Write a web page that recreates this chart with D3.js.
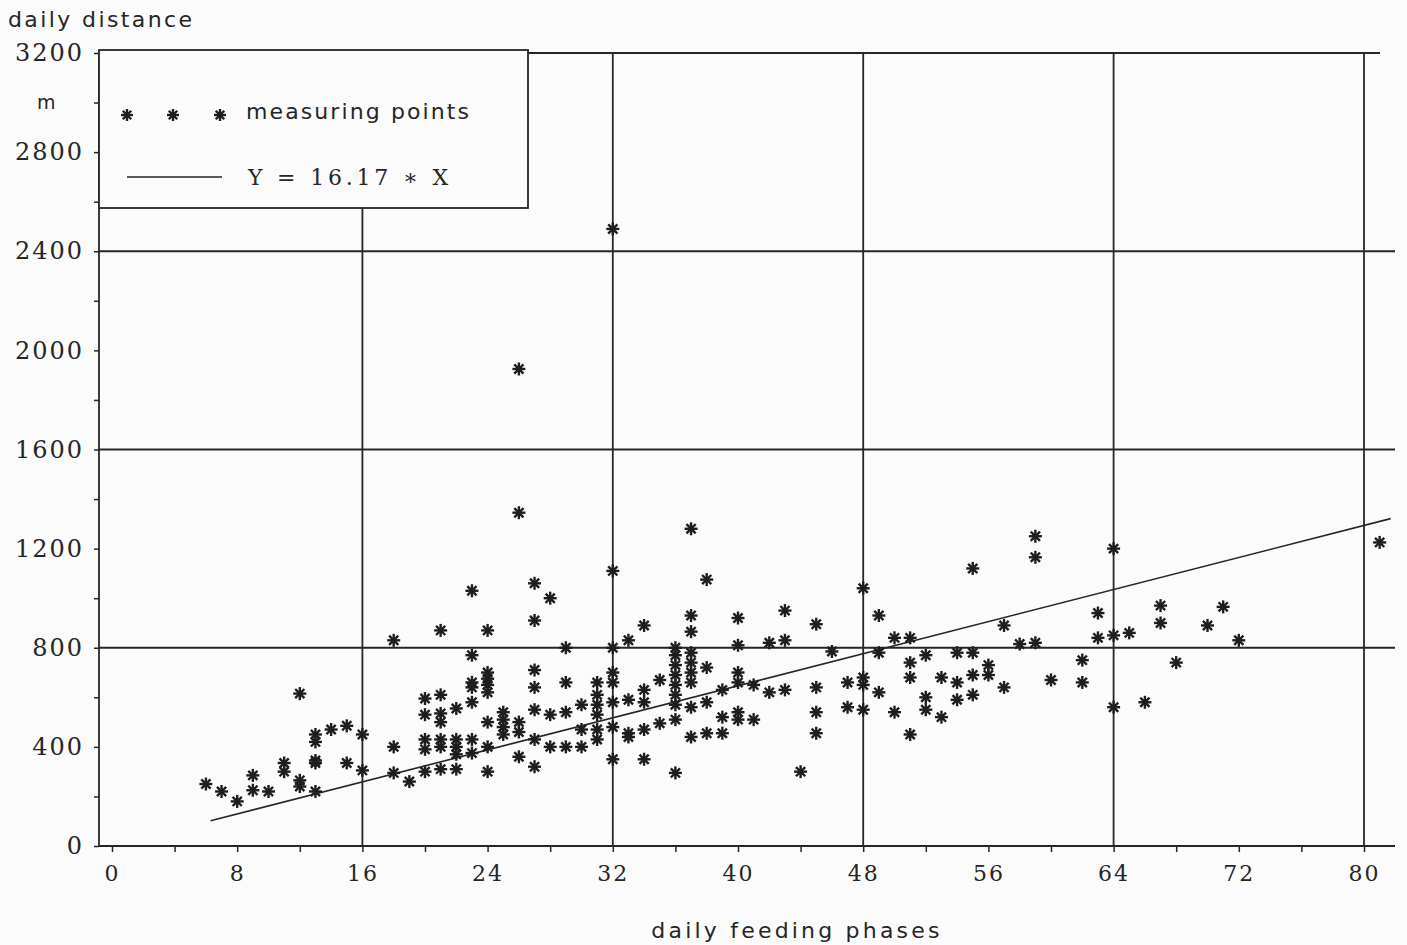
<!DOCTYPE html>
<html>
<head>
<meta charset="utf-8">
<script src="https://cdn.jsdelivr.net/npm/d3@7"></script>
<style>
  body { margin: 0; background: #fbfbfb; }
  svg { display: block; }
  .sans { font-family: "DejaVu Sans", sans-serif; fill: #262626; }
  .serif { font-family: "DejaVu Serif", serif; fill: #262626; }
</style>
</head>
<body>
<svg id="chart" width="1407" height="945"></svg>
<script>
// measuring points, grouped by daily feeding phases -> daily distances (m)
const pointsByPhase = [
    [6, [250]], [7, [220]], [8, [180]], [9, [285, 225]], [10, [220]],
    [11, [335, 300]], [12, [615, 265, 240]], [13, [450, 420, 345, 335, 220]],
    [14, [470]], [15, [485, 335]], [16, [450, 305]], [18, [830, 400, 295]],
    [19, [260]], [20, [595, 530, 430, 390, 300]],
    [21, [870, 610, 535, 500, 430, 400, 310]],
    [22, [555, 430, 400, 370, 310]],
    [23, [1030, 770, 660, 640, 580, 430, 375]],
    [24, [870, 700, 675, 650, 620, 500, 400, 300]],
    [25, [540, 510, 480, 450]],
    [26, [1345, 1925, 500, 460, 360]],
    [27, [1060, 910, 710, 640, 550, 430, 320]],
    [28, [1000, 530, 400]], [29, [800, 660, 540, 400]], [30, [570, 470, 400]],
    [31, [660, 610, 570, 530, 470, 430]],
    [32, [2490, 1110, 800, 700, 660, 580, 480, 350]],
    [33, [830, 590, 455, 440]], [34, [890, 630, 580, 470, 350]], [35, [670, 495]],
    [36, [800, 770, 730, 690, 650, 610, 570, 510, 295]],
    [37, [1280, 930, 865, 780, 740, 700, 660, 560, 440]],
    [38, [1075, 720, 580, 455]], [39, [630, 520, 455]],
    [40, [920, 810, 700, 660, 540, 510]], [41, [650, 510]], [42, [820, 620]],
    [43, [950, 830, 630]], [44, [300]], [45, [895, 640, 540, 455]], [46, [785]],
    [47, [660, 560]], [48, [1040, 680, 650, 550]], [49, [930, 780, 620]],
    [50, [840, 540]], [51, [840, 740, 680, 450]], [52, [770, 600, 550]],
    [53, [680, 520]], [54, [780, 660, 590]], [55, [1120, 780, 690, 610]],
    [56, [730, 690]], [57, [890, 640]], [58, [815]], [59, [1250, 1165, 820]],
    [60, [670]], [62, [750, 660]], [63, [940, 840]], [64, [1200, 850, 560]],
    [65, [860]], [66, [580]], [67, [970, 900]], [68, [740]], [70, [890]],
    [71, [965]], [72, [830]], [81, [1225]]
];

const slope = 16.17;               // Y = 16.17 * X
const fitRange = [6.3, 81.7];
const xTicks = d3.range(0, 81, 4);
const xLabels = d3.range(0, 81, 8);
const yTicks = d3.range(0, 3201, 200);
const yLabels = d3.range(0, 3201, 400);
const xGrid = [16, 32, 48, 64, 80];
const yGrid = [800, 1600, 2400];

const points = pointsByPhase.flatMap(([x, ys]) => ys.map(y => ({ x: x, y: y })));

const svg = d3.select("#chart");
const ink = "#262626";

const x = d3.scaleLinear().domain([0, 80]).range([112, 1364]);
const y = d3.scaleLinear().domain([0, 3200]).range([846, 53]);

const left = 99, right = 1395;
const legend = { x0: 99, y0: 50, x1: 528, y1: 208 };

const g = svg.append("g");

// grid lines
g.selectAll("line.hgrid")
    .data(yGrid)
    .enter()
    .append("line")
    .attr("x1", left).attr("x2", right)
    .attr("y1", d => y(d)).attr("y2", d => y(d))
    .attr("stroke", ink).attr("stroke-width", 1.8);

g.selectAll("line.vgrid")
    .data(xGrid)
    .enter()
    .append("line")
    .attr("x1", d => x(d)).attr("x2", d => x(d))
    .attr("y1", y(0))
    .attr("y2", d => x(d) < legend.x1 ? legend.y1 : y(3200))
    .attr("stroke", ink).attr("stroke-width", 1.8);

// top border
g.append("line")
    .attr("x1", left).attr("x2", 1380)
    .attr("y1", y(3200)).attr("y2", y(3200))
    .attr("stroke", ink).attr("stroke-width", 1.8);

// axes lines
g.append("line")
    .attr("x1", left).attr("x2", right)
    .attr("y1", y(0)).attr("y2", y(0))
    .attr("stroke", ink).attr("stroke-width", 1.8);
g.append("line")
    .attr("x1", left).attr("x2", left)
    .attr("y1", y(0)).attr("y2", y(3200))
    .attr("stroke", ink).attr("stroke-width", 1.8);

// x axis ticks
const xAxis = d3.axisBottom(x)
    .tickValues(xTicks)
    .tickSize(6)
    .tickFormat(d => xLabels.includes(d) ? d : "");
const xa = g.append("g").attr("transform", `translate(0,${y(0)})`).call(xAxis);
xa.select(".domain").remove();
xa.selectAll("line").attr("stroke", ink).attr("stroke-width", 1.5);
xa.selectAll("text")
    .attr("class", "serif")
    .attr("dy", "1.2em")
    .style("font-size", "22px")
    .style("letter-spacing", "2px")
    .attr("fill", ink);

// y axis ticks
const yAxis = d3.axisLeft(y)
    .tickValues(yTicks)
    .tickSize(5)
    .tickFormat(d => yLabels.includes(d) ? d : "");
const ya = g.append("g").attr("transform", `translate(${left},0)`).call(yAxis);
ya.select(".domain").remove();
ya.selectAll("line").attr("stroke", ink).attr("stroke-width", 1.5);
ya.selectAll("text")
    .attr("class", "serif")
    .attr("x", -15)
    .style("font-size", "24px")
    .style("letter-spacing", "2px")
    .attr("fill", ink);

// regression line
g.append("line")
    .attr("x1", x(fitRange[0])).attr("y1", y(slope * fitRange[0]))
    .attr("x2", x(fitRange[1])).attr("y2", y(slope * fitRange[1]))
    .attr("stroke", ink).attr("stroke-width", 1.6);

// asterisk marker
function star(sel, r) {
    sel.each(function () {
        const s = d3.select(this);
        [0, 45, 90, 135].forEach(a => {
            const rad = a * Math.PI / 180;
            const dx = Math.cos(rad) * r, dy = Math.sin(rad) * r;
            s.append("line")
                .attr("x1", -dx).attr("y1", -dy)
                .attr("x2", dx).attr("y2", dy)
                .attr("stroke", "#1e1e1e").attr("stroke-width", 2.4);
        });
        s.append("circle").attr("r", 2.6).attr("fill", "#1e1e1e");
    });
}

g.selectAll("g.pt")
    .data(points)
    .enter()
    .append("g")
    .attr("class", "pt")
    .attr("transform", d => `translate(${x(d.x)},${y(d.y)})`)
    .call(star, 6.5);

// legend
g.append("rect")
    .attr("x", legend.x0).attr("y", legend.y0)
    .attr("width", legend.x1 - legend.x0).attr("height", legend.y1 - legend.y0)
    .attr("fill", "#fbfbfb").attr("stroke", ink).attr("stroke-width", 1.8);

g.selectAll("g.legstar")
    .data([127, 173, 220])
    .enter()
    .append("g")
    .attr("class", "legstar")
    .attr("transform", d => `translate(${d},115)`)
    .call(star, 6);

g.append("text").attr("class", "sans")
    .attr("x", 246).attr("y", 119)
    .style("font-size", "22px").style("letter-spacing", "2.1px")
    .text("measuring points");

g.append("line")
    .attr("x1", 127).attr("x2", 222).attr("y1", 177).attr("y2", 177)
    .attr("stroke", ink).attr("stroke-width", 1.6);

g.append("text").attr("class", "serif")
    .attr("x", 248).attr("y", 185)
    .style("font-size", "22px").style("letter-spacing", "3.8px")
    .text("Y = 16.17 ∗ X");

// titles
svg.append("text").attr("class", "sans")
    .attr("x", 8).attr("y", 27)
    .style("font-size", "22px").style("letter-spacing", "2.4px")
    .text("daily distance");

svg.append("text").attr("class", "sans")
    .attr("x", 37).attr("y", 109)
    .style("font-size", "19px")
    .text("m");

svg.append("text").attr("class", "sans")
    .attr("x", 797).attr("y", 938)
    .attr("text-anchor", "middle")
    .style("font-size", "22px").style("letter-spacing", "3.2px")
    .text("daily feeding phases");
</script>
</body>
</html>
